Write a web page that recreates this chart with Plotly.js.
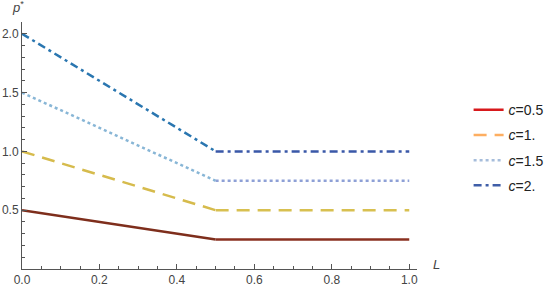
<!DOCTYPE html>
<html>
<head>
<meta charset="utf-8">
<script src="https://cdn.plot.ly/plotly-3.0.1.min.js"></script>
<style>
  body { margin: 0; background: #fff; }
  #chart { width: 550px; height: 287px; }
</style>
</head>
<body>
<div id="chart"></div>
<script>
// break points of L and p* for each c
var Lvals = [0, 0.5, 1];
var cLabels = ["<i>c</i>=0.5", "<i>c</i>=1.", "<i>c</i>=1.5", "<i>c</i>=2."];
var p05 = [0.5, 0.25, 0.25];
var p10 = [1.0, 0.5, 0.5];
var p15 = [1.5, 0.75, 0.75];
var p20 = [2.0, 1.0, 1.0];
var xTicks = [0, 0.2, 0.4, 0.6, 0.8, 1.0];
var xTickText = ["0.0", "0.2", "0.4", "0.6", "0.8", "1.0"];
var yTicks = [0.5, 1.0, 1.5, 2.0];
var yTickText = ["0.5", "1.0", "1.5", "2.0"];

var series = [p05, p10, p15, p20];
var lineColors = ["#7e2e1c", "#d6bb4c", "#88b6d6", "#2a76b0"];
var flatColors = ["#8a3020", "#d8c050", "#8ea0d6", "#3a58a8"];
var legendColors = ["#d7191c", "#fdae61", "#a6bddb", "#3f5ea8"];
var dashes = ["solid", "13px,8px", "3px,3px", "8px,4px,3px,4px"];

var data = [];
for (var i = 0; i < series.length; i++) {
  // sloped part
  data.push({
    x: Lvals.slice(0, 2), y: series[i].slice(0, 2),
    mode: "lines", type: "scatter", showlegend: false, hoverinfo: "none",
    line: {color: lineColors[i], width: 2.5, dash: dashes[i]}
  });
  // flat part
  data.push({
    x: Lvals.slice(1), y: series[i].slice(1),
    mode: "lines", type: "scatter", showlegend: false, hoverinfo: "none",
    line: {color: flatColors[i], width: 2.5, dash: dashes[i]}
  });
}
for (var i = 0; i < series.length; i++) {
  data.push({
    x: [null], y: [null], name: cLabels[i], legendgroup: "g" + i,
    mode: "lines", type: "scatter",
    line: {color: legendColors[i], width: 2.5, dash: dashes[i]}
  });
}

var layout = {
  width: 550, height: 287,
  margin: {l: 22, r: 133, t: 22, b: 18},
  paper_bgcolor: "#fff", plot_bgcolor: "#fff",
  font: {family: "Liberation Sans, Arial, sans-serif", size: 12, color: "#444"},
  showlegend: true,
  legend: {
    xref: "container", yref: "container",
    x: 0.852, xanchor: "left", y: 0.672, yanchor: "top",
    traceorder: "grouped", tracegroupgap: 4,
    font: {size: 14, color: "#222"}
  },
  xaxis: {
    range: [0, 1.02], tickvals: xTicks, ticktext: xTickText,
    showgrid: false, zeroline: false, showline: true, linecolor: "#555", linewidth: 1,
    ticks: "inside", ticklen: 5, tickcolor: "#555",
    minor: {dtick: 0.05, ticks: "inside", ticklen: 3, tickcolor: "#555"},
    tickfont: {size: 12, color: "#444"}
  },
  yaxis: {
    range: [0, 2.1], tickvals: yTicks, ticktext: yTickText,
    showgrid: false, zeroline: false, showline: true, linecolor: "#555", linewidth: 1,
    ticks: "inside", ticklen: 5, tickcolor: "#555",
    minor: {dtick: 0.1, ticks: "inside", ticklen: 3, tickcolor: "#555"},
    tickfont: {size: 12, color: "#444"}
  },
  annotations: [
    {text: "<i>L</i>", xref: "paper", yref: "paper", x: 1.035, y: 0.02,
     xanchor: "left", yanchor: "middle", showarrow: false, font: {size: 13, color: "#444"}},
    {text: "<i>p</i><sup>*</sup>", xref: "paper", yref: "paper", x: -0.01, y: 1.02,
     xanchor: "center", yanchor: "bottom", showarrow: false, font: {size: 13, color: "#444"}}
  ]
};

Plotly.newPlot("chart", data, layout, {displayModeBar: false, staticPlot: true});
</script>
</body>
</html>
